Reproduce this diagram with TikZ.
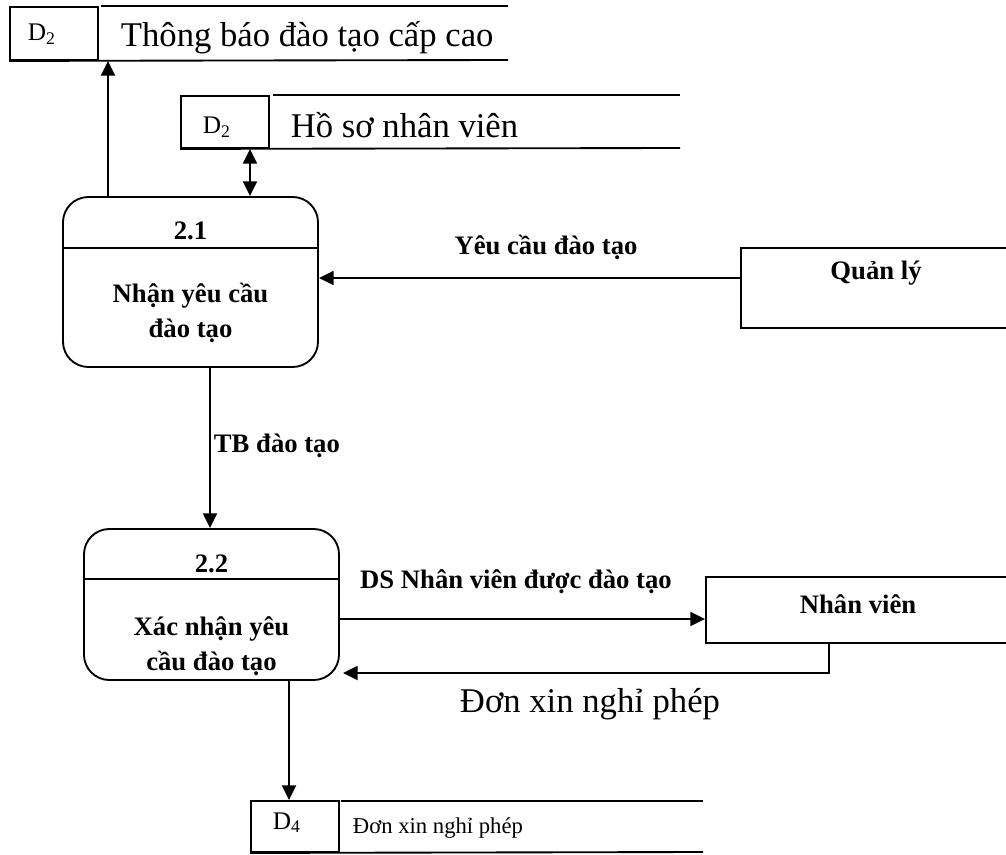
\documentclass[tikz,border=0pt]{standalone}
\usepackage{fontspec}
\setmainfont{Liberation Serif}
\usetikzlibrary{arrows.meta}
\newlength\upx \setlength\upx{0.75pt}
\begin{document}
\begin{tikzpicture}[x=0.75pt,y=-0.75pt, line width=1.4pt,
 tip/.tip={Triangle[length=11pt,width=10.5pt]},
 arr/.style={-tip},
 darr/.style={tip-tip},
 proc/.style={draw, rounded corners=19pt, minimum width=255\upx, inner sep=0},
 idbox/.style={draw, minimum width=88\upx, inner sep=0},
 idtxt/.style={font=\fontsize{19}{22}\selectfont, inner sep=0, anchor=base west},
 ent/.style={draw, inner sep=0},
 big/.style={font=\fontsize{26}{30}\selectfont, inner sep=0, anchor=base west},
 lbl/.style={font=\bfseries\fontsize{20}{26.25}\selectfont, inner sep=0},
]
\useasboundingbox (0,0) rectangle (1006,855);
% helper coordinates
\coordinate (x108) at (108,0);
\coordinate (x250) at (250,0);
\coordinate (x210) at (210,0);
\coordinate (x289) at (289,0);
\coordinate (x829) at (829,0);
\coordinate (y248) at (0,248);
\coordinate (y579) at (0,579);
\coordinate (y619) at (0,619);
\coordinate (y673) at (0,673);

% process 2.1
\node[proc, minimum height=170\upx] (p1) at (190.5,282) {};
\draw (p1.west |- y248) -- (p1.east |- y248);
\node[lbl, anchor=base] (t21) at (190.5,240) {2.1};
\node[lbl, align=center] (n21) at (190.5,313) {Nhận yêu cầu\\đào tạo};

% process 2.2
\node[proc, minimum height=151\upx] (p2) at (211.5,604.5) {};
\draw (p2.west |- y579) -- (p2.east |- y579);
\node[lbl, anchor=base] (t22) at (211.5,572) {2.2};
\node[lbl, align=center] (n22) at (211.5,646) {Xác nhận yêu\\cầu đào tạo};

% store 1
\node[idbox, minimum height=53\upx] (s1) at (54,33.5) {};
\node[idtxt] (s1d) at (27,41) {D\textsubscript{2}};
\draw (101,6) -- (508,6);
\draw (s1.south west) -- (508,60);
\node[big] (s1t) at (120,47) {Thông báo đào tạo cấp cao};

% store 2
\node[idbox, minimum height=52\upx] (s2) at (225,122) {};
\node[idtxt] (s2d) at (202,134) {D\textsubscript{2}};
\draw (273,95) -- (680,95);
\draw (s2.south west) -- (680,148);
\node[big] (s2t) at (290,138) {Hồ sơ nhân viên};

% store D4
\node[idbox, minimum height=51\upx] (s4) at (295,826.5) {};
\node[idtxt] (s4d) at (272,829) {D\textsubscript{4}};
\draw (341,801) -- (703,801);
\draw (s4.south west) -- (703,852);
\node[font=\fontsize{17}{20}\selectfont, anchor=base west, inner sep=0] (s4t) at (352,833) {Đơn xin nghỉ phép};

% entities
\node[ent, minimum width=280\upx, minimum height=80\upx] (ql) at (881,288) {};
\node[lbl, anchor=base] (qlt) at (876,280) {Quản lý};
\node[ent, minimum width=310\upx, minimum height=66\upx] (nv) at (861,610) {};
\node[lbl, anchor=base] (nvt) at (858,613) {Nhân viên};

% connectors
\draw[arr] (x108 |- p1.north) -- (x108 |- s1.south);
\draw[darr] (x250 |- p1.north) -- (x250 |- s2.south);
\draw[arr] ([yshift=7.5pt]ql.west) -- ([yshift=7.5pt]ql.west -| p1.east);
\draw[arr] (x210 |- p1.south) -- (x210 |- p2.north);
\draw[arr] (p2.east |- y619) -- (nv.west |- y619);
\draw[arr] (x829 |- nv.south) |- ([xshift=3\upx]p2.east |- y673);
\draw[arr] (x289 |- p2.south) -- (x289 |- s4.north);

% labels
\node[lbl, anchor=base] (lyc) at (546,255) {Yêu cầu đào tạo};
\node[lbl, anchor=base west] (ltb) at (213,452) {TB đào tạo};
\node[lbl, anchor=base] (lds) at (516,588) {DS Nhân viên được đào tạo};
\node[big, anchor=base] (ldon) at (590,712) {Đơn xin nghỉ phép};
\end{tikzpicture}
\end{document}
